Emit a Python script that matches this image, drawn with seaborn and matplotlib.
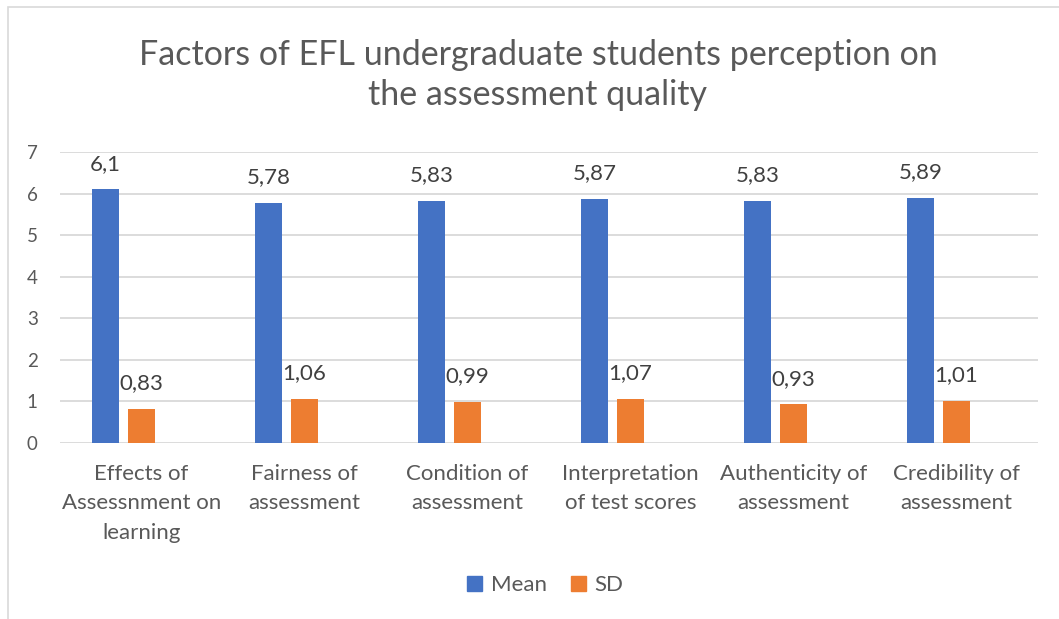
import matplotlib.pyplot as plt
import matplotlib.patches as mpatches
import pandas as pd
import seaborn as sns

# Chart data
categories = ["Effects of\nAssessnment on\nlearning", "Fairness of\nassessment",
              "Condition of\nassessment", "Interpretation\nof test scores",
              "Authenticity of\nassessment", "Credibility of\nassessment"]
mean_values = [6.1, 5.78, 5.83, 5.87, 5.83, 5.89]
sd_values = [0.83, 1.06, 0.99, 1.07, 0.93, 1.01]
series_names = ["Mean", "SD"]
y_ticks = [0, 1, 2, 3, 4, 5, 6, 7]

colors = {"Mean": "#4472C4", "SD": "#ED7D31", " ": "#FFFFFF"}

df = pd.DataFrame({
    "category": categories * 2,
    "series": ["Mean"] * len(categories) + ["SD"] * len(categories),
    "value": mean_values + sd_values,
})

sns.set_style("white")
plt.rcParams['font.family'] = ['Lato', 'DejaVu Sans']

fig = plt.figure(figsize=(10.59, 6.19), dpi=100)
ax = fig.add_axes([0.0567, 0.2843, 0.9233, 0.4701])

# Excel leaves an empty third slot in each group, so the pair sits left of centre
sns.barplot(data=df, x="category", y="value", hue="series",
            hue_order=["Mean", "SD", " "], order=categories,
            palette=colors, width=0.66, gap=0.23, dodge=True,
            legend=False, errorbar=None, saturation=1, linewidth=0, ax=ax)

ax.set_ylim(0, 7)
ax.set_xlim(-0.5, len(categories) - 0.5)
ax.set_yticks(y_ticks)
ax.set_yticklabels([str(t) for t in y_ticks], fontsize=13.5, color='#595959')
ax.tick_params(axis='x', labelsize=16, labelcolor='#595959', length=0, pad=15)
ax.tick_params(axis='y', length=0, pad=16)
for lbl in ax.get_xticklabels():
    lbl.set_linespacing(1.6)
ax.yaxis.grid(True, color='#D9D9D9', linewidth=1.3)
ax.set_axisbelow(True)
for s in ax.spines.values():
    s.set_visible(False)
ax.set_xlabel("")
ax.set_ylabel("")

# Data labels with comma decimals
for container in ax.containers:
    for bar in container:
        h = bar.get_height()
        if pd.isna(h) or h == 0:
            continue
        ax.annotate(f"{h:g}".replace('.', ','),
                    (bar.get_x() + bar.get_width() / 2, h),
                    xytext=(0, 18.5), textcoords='offset points',
                    ha='center', va='center', fontsize=16, color='#404040')

fig.text(0.508, 0.879, "Factors of EFL undergraduate students perception on\nthe assessment quality",
         ha='center', va='center', fontsize=24.5, color='#595959', linespacing=1.32)

handles = [mpatches.Patch(color=colors[n], label=n) for n in series_names]
fig.legend(handles=handles, loc='center', bbox_to_anchor=(0.515, 0.055), ncol=2,
           frameon=False, fontsize=16, handlelength=0.65, handleheight=0.65,
           handletextpad=0.4, columnspacing=1.1, labelcolor='#595959')

# chart frame
frame = mpatches.Rectangle((8 / 1059, -0.2), 1.2, 1.2 - 7 / 619, transform=fig.transFigure,
                           fill=False, edgecolor='#D9D9D9', linewidth=1.2)
fig.patches.append(frame)

plt.savefig("out.png", dpi=100, facecolor='white')
plt.close()
